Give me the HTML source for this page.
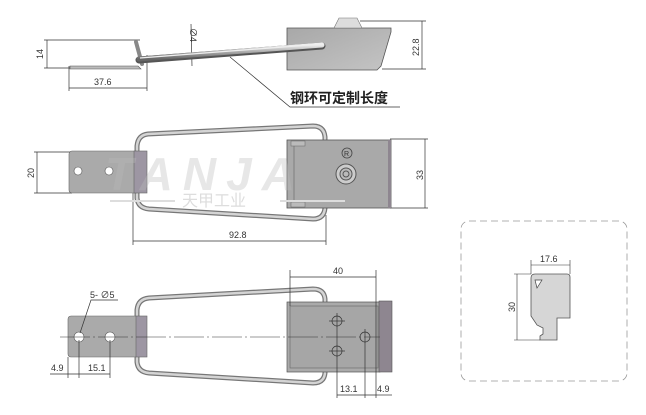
<!DOCTYPE html>
<html><head><meta charset="utf-8"><style>
html,body{margin:0;padding:0;background:#fff;width:646px;height:415px;overflow:hidden}
svg{display:block}
text{font-family:"Liberation Sans","Noto Sans CJK SC",sans-serif;fill:#333}
</style></head><body>
<svg width="646" height="415" viewBox="0 0 646 415" xmlns="http://www.w3.org/2000/svg">
<defs>
<linearGradient id="rod" x1="0" y1="0" x2="0" y2="1"><stop offset="0" stop-color="#eee"/><stop offset="0.5" stop-color="#aaa"/><stop offset="1" stop-color="#666"/></linearGradient>
<linearGradient id="box" x1="0" y1="0" x2="1" y2="1"><stop offset="0" stop-color="#a8a8a8"/><stop offset="1" stop-color="#c4c4c4"/></linearGradient>
</defs>
<g stroke="#333" stroke-width="0.7" fill="none">
<line x1="44" y1="40" x2="140" y2="40"/><line x1="44" y1="68" x2="72" y2="68"/>
<line x1="47" y1="40" x2="47" y2="68"/>
<line x1="69" y1="66" x2="69" y2="91"/><line x1="147" y1="55" x2="147" y2="91"/>
<line x1="69" y1="88" x2="147" y2="88"/>
<line x1="191" y1="24" x2="192" y2="66"/>
<line x1="360" y1="21" x2="426" y2="21"/><line x1="382" y1="69" x2="426" y2="69"/>
<line x1="422" y1="21" x2="422" y2="69"/>
<polyline points="230,57 290,107 400,107"/>
</g>
<polygon points="70,66 138,66 141,69 70,69" fill="#bbb" stroke="#555" stroke-width="0.6"/>
<line x1="136" y1="42" x2="142" y2="64" stroke="#888" stroke-width="4" stroke-linecap="round"/>
<polygon points="287,28 391,28 391,32 381,66 377,70 287,70" fill="url(#box)" stroke="#555" stroke-width="0.8"/>
<polygon points="339,18 357,18 362,28 334,28" fill="#ddd" stroke="#777" stroke-width="0.6"/>
<line x1="139" y1="60" x2="322" y2="46" stroke="#555" stroke-width="7" stroke-linecap="round"/>
<line x1="139" y1="59" x2="322" y2="45" stroke="url(#rod)" stroke-width="5" stroke-linecap="round"/>
<line x1="140" y1="58" x2="322" y2="44" stroke="#eee" stroke-width="1.2"/>
<text x="0" y="0" font-size="9" transform="translate(43,59) rotate(-90)">14</text>
<text x="94" y="85" font-size="9">37.6</text>
<text x="0" y="0" font-size="9" transform="translate(419,56) rotate(-90)">22.8</text>
<text x="0" y="0" font-size="9" transform="translate(190,28) rotate(90)">∅4</text>
<text x="290" y="103" font-size="14" font-weight="bold" style="fill:#222">钢环可定制长度</text>

<!-- MIDDLE VIEW -->
<g stroke="#333" stroke-width="0.7" fill="none">
<line x1="34" y1="152" x2="72" y2="152"/><line x1="34" y1="193" x2="72" y2="193"/>
<line x1="37" y1="152" x2="37" y2="193"/>
<line x1="390" y1="139" x2="428" y2="139"/><line x1="390" y1="208" x2="428" y2="208"/>
<line x1="425" y1="139" x2="425" y2="208"/>
<line x1="133" y1="190" x2="133" y2="245"/><line x1="326" y1="215" x2="326" y2="245"/>
<line x1="133" y1="241" x2="326" y2="241"/>
</g>
<text x="0" y="0" font-size="9" transform="translate(34,178) rotate(-90)">20</text>
<text x="0" y="0" font-size="9" transform="translate(423,180) rotate(-90)">33</text>
<text x="229" y="238" font-size="9">92.8</text>
<path d="M137,152 L137,146 Q138,135 148,134 L313,126 Q324,126 325,137 L325,145 M137,192 L137,198 Q138,208 149,209 L313,219 Q324,219 325,208 L325,200" fill="none" stroke="#777" stroke-width="5"/>
<path d="M137,152 L137,146 Q138,135 148,134 L313,126 Q324,126 325,137 L325,145 M137,192 L137,198 Q138,208 149,209 L313,219 Q324,219 325,208 L325,200" fill="none" stroke="#d4d4d4" stroke-width="2.5"/>
<rect x="69" y="151" width="70" height="42" rx="3" fill="#aaa" stroke="#666" stroke-width="0.6"/>
<circle cx="78" cy="171" r="4" fill="#fff" stroke="#555" stroke-width="0.6"/>
<circle cx="109" cy="171" r="4" fill="#fff" stroke="#555" stroke-width="0.6"/>
<rect x="134" y="151" width="13" height="42" fill="#9d96a3" stroke="#666" stroke-width="0.6"/>
<rect x="287" y="140" width="104" height="68" fill="#a9a9a9" stroke="#555" stroke-width="0.8"/>
<rect x="291" y="141" width="14" height="5" fill="#bbb" stroke="#666" stroke-width="0.5"/>
<rect x="291" y="202" width="14" height="5" fill="#bbb" stroke="#666" stroke-width="0.5"/>
<line x1="294" y1="146" x2="294" y2="202" stroke="#666" stroke-width="0.6"/>
<rect x="388" y="140" width="3" height="68" fill="#8e8690"/>
<circle cx="347" cy="153" r="5" fill="none" stroke="#444" stroke-width="0.8"/>
<text x="344" y="156" font-size="7" style="fill:#333">R</text>
<circle cx="346" cy="174" r="10" fill="#ccc" stroke="#555"/>
<circle cx="346" cy="174" r="6" fill="#bbb" stroke="#555"/>
<circle cx="346" cy="174" r="3" fill="none" stroke="#555"/>
<text x="105" y="190" font-size="46" font-style="italic" font-weight="bold" style="fill:#bbb;opacity:0.35" letter-spacing="10">TANJA</text>
<line x1="110" y1="201" x2="175" y2="201" stroke="#ddd" stroke-width="2"/>
<line x1="280" y1="201" x2="345" y2="201" stroke="#ddd" stroke-width="2"/>
<text x="182" y="206" font-size="16" style="fill:#ddd">天甲工业</text>

<!-- BOTTOM VIEW -->
<path d="M137,318 L137,310 Q138,299 149,298 L313,289 Q324,289 325,299 L325,305 M137,355 L137,362 Q138,372 149,373 L313,383 Q324,383 325,373 L325,368" fill="none" stroke="#777" stroke-width="5"/>
<path d="M137,318 L137,310 Q138,299 149,298 L313,289 Q324,289 325,299 L325,305 M137,355 L137,362 Q138,372 149,373 L313,383 Q324,383 325,373 L325,368" fill="none" stroke="#d4d4d4" stroke-width="2.5"/>
<rect x="68" y="316" width="70" height="41" rx="3" fill="#aaa" stroke="#666" stroke-width="0.6"/>
<rect x="136" y="316" width="11" height="41" fill="#9d96a3" stroke="#666" stroke-width="0.6"/>
<circle cx="79" cy="337" r="5" fill="#fff" stroke="#555" stroke-width="0.6"/>
<circle cx="110" cy="337" r="5" fill="#fff" stroke="#555" stroke-width="0.6"/>
<rect x="287" y="302" width="93" height="70" fill="#aaa" stroke="#555" stroke-width="0.7"/>
<rect x="290" y="306" width="88" height="62" fill="#a6a6a6" stroke="#666" stroke-width="0.6"/>
<rect x="379" y="301" width="13" height="71" fill="#8e8690" stroke="#555" stroke-width="0.6"/>
<g stroke="#333" stroke-width="0.7" fill="none">
<circle cx="337" cy="321" r="5"/><circle cx="337" cy="351" r="5"/><circle cx="365" cy="337" r="5"/>
<line x1="329" y1="321" x2="345" y2="321"/><line x1="337" y1="313" x2="337" y2="398"/>
<line x1="329" y1="351" x2="345" y2="351"/>
<line x1="365" y1="329" x2="365" y2="398"/>
<line x1="290" y1="270" x2="290" y2="306"/><line x1="376" y1="270" x2="376" y2="398"/>
<line x1="290" y1="277" x2="376" y2="277"/>
<line x1="337" y1="395" x2="376" y2="395"/><line x1="376" y1="395" x2="392" y2="395"/>
<line x1="60" y1="337" x2="380" y2="337" stroke-dasharray="30,3,2,3" stroke-width="0.5"/>
<line x1="68" y1="357" x2="68" y2="378"/><line x1="79" y1="340" x2="79" y2="378"/><line x1="110" y1="340" x2="110" y2="378"/>
<line x1="50" y1="374" x2="110" y2="374"/>
<polyline points="80,333 91,300 118,300"/>
</g>
<text x="333" y="274" font-size="9">40</text>
<text x="90" y="298" font-size="9">5- ∅5</text>
<text x="51" y="371" font-size="9">4.9</text>
<text x="88" y="371" font-size="9">15.1</text>
<text x="340" y="392" font-size="9">13.1</text>
<text x="377" y="392" font-size="9">4.9</text>

<!-- PROFILE BOX -->
<rect x="461" y="221" width="166" height="160" rx="8" fill="none" stroke="#999" stroke-width="0.8" stroke-dasharray="7,4"/>
<path d="M531,278 Q531,274 535,274 L567,274 Q570,274 570,277 L570,318 L557,318 L557,340 L540,340 L540,336 L543,334 L543,328 L537,325 L531,316 Z" fill="#d6d6d6" stroke="#555" stroke-width="0.8"/>
<polygon points="535,280 542,280 537,288" fill="#fff" stroke="#444" stroke-width="0.7"/>
<g stroke="#333" stroke-width="0.6">
<line x1="531" y1="260" x2="531" y2="274"/><line x1="570" y1="260" x2="570" y2="274"/>
<line x1="531" y1="265" x2="570" y2="265"/>
<line x1="514" y1="274" x2="531" y2="274"/><line x1="514" y1="340" x2="540" y2="340"/>
<line x1="517" y1="274" x2="517" y2="340"/>
</g>
<text x="540" y="262" font-size="9">17.6</text>
<text x="0" y="0" font-size="9" transform="translate(515,312) rotate(-90)">30</text>
</svg>
</body></html>
